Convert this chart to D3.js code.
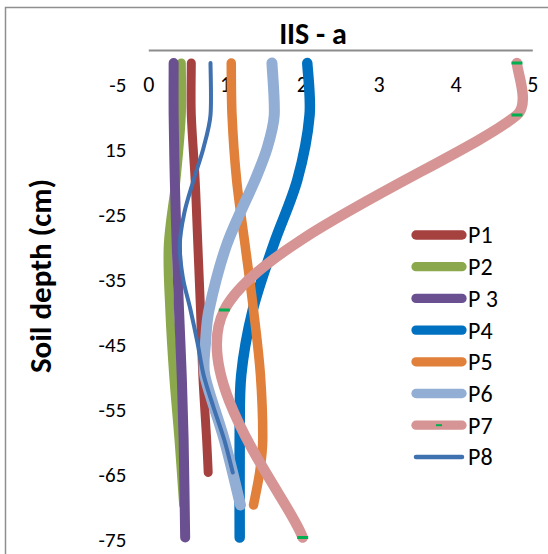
<!DOCTYPE html>
<html>
<head>
<meta charset="utf-8">
<script src="https://cdn.jsdelivr.net/npm/d3@7/dist/d3.min.js"></script>
<style>
  html, body { margin: 0; padding: 0; background: #fff; }
  svg { display: block; }
  text { font-family: Carlito, Calibri, "Liberation Sans", Arial, sans-serif; fill: #000; }
</style>
</head>
<body>
<svg id="chart" width="548" height="554"></svg>
<script>
// ---- data ----
const seriesNames = ["P1", "P2", "P 3", "P4", "P5", "P6", "P7", "P8"];
const seriesColors = ["#A5423F", "#8BA84C", "#6B5091", "#0070C0", "#E0803A", "#93AED5", "#D69494", "#3F70B0"];

const depthP1 = [-2, -10, -20, -30, -40, -50, -60, -65];
const valP1   = [0.56, 0.56, 0.61, 0.645, 0.68, 0.71, 0.76, 0.78];

const depthP2 = [-2, -10, -20, -30, -40, -50, -60, -70];
const valP2   = [0.43, 0.43, 0.36, 0.26, 0.28, 0.33, 0.40, 0.46];

const depthP3 = [-2, -10, -20, -30, -40, -50, -60, -75];
const valP3   = [0.33, 0.33, 0.345, 0.37, 0.40, 0.435, 0.46, 0.48];

const depthP4 = [-2, -10, -20, -30, -40, -50, -60, -75];
const valP4   = [2.07, 2.10, 1.94, 1.63, 1.36, 1.21, 1.19, 1.19];

const depthP5 = [-2, -10, -20, -30, -40, -50, -60, -65, -70];
const valP5   = [1.08, 1.09, 1.15, 1.26, 1.37, 1.46, 1.49, 1.45, 1.37];

const depthP6 = [-2, -10, -15, -20, -30, -40, -45, -50, -60, -70];
const valP6   = [1.61, 1.64, 1.55, 1.39, 1.02, 0.79, 0.745, 0.735, 0.99, 1.20];

const depthP7 = [-2, -10, -40, -75];
const valP7   = [4.80, 4.80, 0.99, 2.01];

const depthP8 = [-2, -10, -15, -20, -25, -30, -35, -40, -45, -50, -55, -60, -65];
const valP8   = [0.81, 0.81, 0.72, 0.59, 0.47, 0.41, 0.45, 0.55, 0.64, 0.72, 0.85, 0.99, 1.10];

const xTicks = [0, 1, 2, 3, 4, 5];
const xTickLabels = ["0", "1", "2", "3", "4", "5"];
const yTicks = [-5, -15, -25, -35, -45, -55, -65, -75];
const yTickLabels = ["-5", "15", "-25", "-35", "-45", "-55", "-65", "-75"];

const chartTitle = "IIS - a";
const yTitle = "Soil depth (cm)";

// ---- Excel-like smoothed curve (Catmull-Rom with limited control arms) ----
function ExcelSmooth(context) { this._context = context; }
ExcelSmooth.prototype = {
  areaStart() { this._line = 0; },
  areaEnd() { this._line = NaN; },
  lineStart() { this._pts = []; },
  point(px, py) { this._pts.push([+px, +py]); },
  lineEnd() {
    const p = this._pts, n = p.length, c = this._context;
    if (!n) return;
    c.moveTo(p[0][0], p[0][1]);
    if (n === 2) { c.lineTo(p[1][0], p[1][1]); return; }
    const clampArm = (t, maxLen) => {
      const l = Math.hypot(t[0], t[1]);
      return l > maxLen && l > 0 ? [t[0] * maxLen / l, t[1] * maxLen / l] : t;
    };
    for (let i = 0; i < n - 1; i++) {
      const p0 = p[Math.max(i - 1, 0)], p1 = p[i], p2 = p[i + 1], p3 = p[Math.min(i + 2, n - 1)];
      const L = Math.hypot(p2[0] - p1[0], p2[1] - p1[1]);
      const t1 = clampArm([(p2[0] - p0[0]) / 6, (p2[1] - p0[1]) / 6], L / 3);
      const t2 = clampArm([(p3[0] - p1[0]) / 6, (p3[1] - p1[1]) / 6], L / 3);
      c.bezierCurveTo(p1[0] + t1[0], p1[1] + t1[1], p2[0] - t2[0], p2[1] - t2[1], p2[0], p2[1]);
    }
  }
};
const curveExcel = ctx => new ExcelSmooth(ctx);

// ---- layout ----
const depths = [depthP1, depthP2, depthP3, depthP4, depthP5, depthP6, depthP7, depthP8];
const values = [valP1, valP2, valP3, valP4, valP5, valP6, valP7, valP8];
const widths = [9, 9, 10, 10.5, 9.5, 11, 10.5, 4];

const svg = d3.select("#chart");
svg.append("rect").attr("width", 548).attr("height", 554).attr("fill", "#fff");

// frame (top + left only, image is cropped)
svg.append("path").attr("d", "M5.5,554V7.5H548")
  .attr("fill", "none").attr("stroke", "#8f8f8f").attr("stroke-width", 1.5);

const x = d3.scaleLinear().domain([0, 5]).range([148.3, 532.3]);
const y = d3.scaleLinear().domain([0, -80]).range([50, 570]);

// title
svg.append("text").attr("x", 313).attr("y", 44).attr("text-anchor", "middle")
  .style("font-size", "30px").style("font-weight", "bold").text(chartTitle);

// x axis (top, labels inside)
const xAxis = svg.append("g").attr("transform", `translate(0,${y(0)})`)
  .call(d3.axisBottom(x).tickValues(xTicks).tickFormat((d, i) => xTickLabels[i])
    .tickSize(0).tickSizeOuter(0).tickPadding(26));
xAxis.select(".domain").attr("stroke", "#8c8c8c").attr("stroke-width", 2);
xAxis.selectAll("text").style("font-size", "22px").style("font-family", null);

// y axis (labels only)
const yAxis = svg.append("g").attr("transform", `translate(${x(0)},0)`)
  .call(d3.axisLeft(y).tickValues(yTicks).tickFormat((d, i) => yTickLabels[i])
    .tickSize(0).tickPadding(22));
yAxis.select(".domain").remove();
yAxis.selectAll("text").attr("y", 2.5).style("font-size", "21px").style("font-family", null);

// y title
svg.append("text").attr("transform", "translate(51,276) rotate(-90)")
  .attr("text-anchor", "middle").style("font-size", "31px").style("font-weight", "bold")
  .text(yTitle);

// series lines
const line = d3.line().x(d => x(d.v)).y(d => y(d.d)).curve(curveExcel);
const gLines = svg.append("g");
seriesNames.forEach((name, i) => {
  const pts = depths[i].map((d, j) => ({ d: d, v: values[i][j] }));
  gLines.append("path").datum(pts).attr("d", line)
    .attr("fill", "none").attr("stroke", seriesColors[i])
    .attr("stroke-width", widths[i]).attr("stroke-linecap", "round").attr("stroke-linejoin", "round");
  if (name === "P7") {
    gLines.selectAll(null).data(pts).enter().append("rect")
      .attr("x", d => x(d.v) - 5.5).attr("y", d => y(d.d) - 1.5)
      .attr("width", 11).attr("height", 3).attr("fill", "#00B050");
  }
});

// legend
const legend = svg.append("g");
seriesNames.forEach((name, i) => {
  const ly = 235 + i * 31.7;
  legend.append("line").attr("x1", 416).attr("x2", 462).attr("y1", ly).attr("y2", ly)
    .attr("stroke", seriesColors[i]).attr("stroke-width", i === 7 ? 4.5 : 9.3)
    .attr("stroke-linecap", "round");
  if (name === "P7") {
    legend.append("rect").attr("x", 436).attr("y", ly - 1).attr("width", 6).attr("height", 2)
      .attr("fill", "#00B050");
  }
  legend.append("text").attr("x", 468).attr("y", ly).attr("dy", "0.35em")
    .style("font-size", "24px").text(name);
});
</script>
</body>
</html>
